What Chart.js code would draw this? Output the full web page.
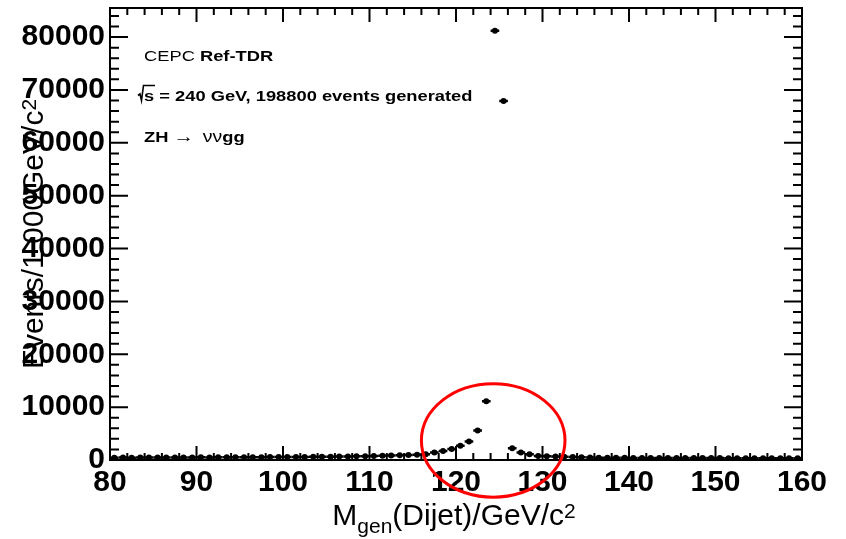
<!DOCTYPE html>
<html>
<head>
<meta charset="utf-8">
<script src="https://cdn.jsdelivr.net/npm/chart.js@4.4.1/dist/chart.umd.min.js"></script>
<style>
  html, body { margin: 0; padding: 0; background: #fff; }
  #wrap { width: 846px; height: 539px; }
</style>
</head>
<body>
<div id="wrap"><canvas id="mjj" width="846" height="539"></canvas></div>
<script>
// histogram binning, GeV/c^2
var histMin = 80;
var histMax = 160;
var binWidth = 1;

// events per 1 GeV bin, first bin 80-81
var counts = [
  430, 450, 440, 460, 450, 470, 460, 480, 470, 490,      // 80-90
  500, 490, 510, 520, 510, 530, 540, 530, 550, 560,      // 90-100
  560, 580, 590, 600, 620, 630, 650, 670, 690, 720,      // 100-110
  750, 790, 830, 880, 930, 990,                          // 110-116
  1100, 1400, 1700, 2100, 2700, 3500, 5600, 11100,       // 116-124
  81200, 67900,                                          // 124-126
  2200, 1400, 1100, 780,                                 // 126-130
  700, 650, 600, 560, 520, 470, 440, 430, 420, 410,      // 130-140
  400, 400, 390, 390, 380, 380, 370, 370, 360, 360,      // 140-150
  360, 350, 350, 340, 340, 330, 330, 320, 320, 310       // 150-160
];

var xTicks = [80, 90, 100, 110, 120, 130, 140, 150, 160];
var yTicks = [0, 10000, 20000, 30000, 40000, 50000, 60000, 70000, 80000];
var yMax = 85500;

var points = counts.map(function (n, i) {
  return { x: histMin + binWidth * (i + 0.5), y: n };
});

var FONT = "'Liberation Sans', Arial, Helvetica, sans-serif";

// horizontal bar over each bin + sqrt(N) vertical error
var errorBars = {
  id: 'errorBars',
  afterDatasetsDraw: function (chart) {
    var ctx = chart.ctx, xs = chart.scales.x, ys = chart.scales.y, a = chart.chartArea;
    ctx.save();
    ctx.beginPath();
    ctx.rect(a.left, a.top, a.right - a.left, a.bottom - a.top);
    ctx.clip();
    ctx.strokeStyle = '#000';
    ctx.lineWidth = 2.5;
    points.forEach(function (p) {
      var x1 = xs.getPixelForValue(p.x - binWidth / 2);
      var x2 = xs.getPixelForValue(p.x + binWidth / 2);
      var xc = xs.getPixelForValue(p.x);
      var y = ys.getPixelForValue(p.y);
      var err = Math.sqrt(p.y);
      ctx.beginPath();
      ctx.moveTo(x1, y);
      ctx.lineTo(x2, y);
      ctx.moveTo(xc, ys.getPixelForValue(p.y - err));
      ctx.lineTo(xc, ys.getPixelForValue(p.y + err));
      ctx.stroke();
    });
    ctx.restore();
  }
};

// ROOT-like frame: box with inward ticks on all four sides
var frame = {
  id: 'frame',
  afterDraw: function (chart) {
    var ctx = chart.ctx, xs = chart.scales.x, ys = chart.scales.y, a = chart.chartArea;
    ctx.save();
    ctx.strokeStyle = '#000';
    ctx.lineWidth = 2;
    ctx.strokeRect(a.left, a.top, a.right - a.left, a.bottom - a.top);
    ctx.beginPath();
    for (var v = histMin; v <= histMax; v += 2) {
      var len = (v % 10 === 0) ? 14 : 7;
      var px = xs.getPixelForValue(v);
      ctx.moveTo(px, a.bottom); ctx.lineTo(px, a.bottom - len);
      ctx.moveTo(px, a.top); ctx.lineTo(px, a.top + len);
    }
    for (var w = 0; w <= yMax; w += 2000) {
      var l = (w % 10000 === 0) ? 18 : 9;
      var py = ys.getPixelForValue(w);
      ctx.moveTo(a.left, py); ctx.lineTo(a.left + l, py);
      ctx.moveTo(a.right, py); ctx.lineTo(a.right - l, py);
    }
    ctx.stroke();
    ctx.restore();
  }
};

// draw a list of text runs, stretched horizontally
function drawRuns(ctx, runs, x, y, sx) {
  ctx.save();
  ctx.translate(x, y);
  ctx.scale(sx, 1);
  var cx = 0;
  runs.forEach(function (r) {
    ctx.font = r.font;
    ctx.fillText(r.text, cx, 0);
    cx += ctx.measureText(r.text).width + (r.gap || 0);
  });
  ctx.restore();
}

// axis titles with sub/superscripts, legend text and the highlight ring
var labels = {
  id: 'labels',
  afterDraw: function (chart) {
    var ctx = chart.ctx, xs = chart.scales.x, ys = chart.scales.y, a = chart.chartArea;
    ctx.save();
    ctx.fillStyle = '#000';
    ctx.textBaseline = 'alphabetic';
    ctx.textAlign = 'left';

    // x title: M_gen(Dijet)/GeV/c^2
    var big = '30px ' + FONT, small = '21px ' + FONT;
    ctx.font = big; var wM = ctx.measureText('M').width, wRest = ctx.measureText('(Dijet)/GeV/c').width;
    ctx.font = small; var wSub = ctx.measureText('gen').width, wSup = ctx.measureText('2').width;
    var x0 = (a.left + a.right) / 2 - (wM + wSub + wRest + wSup) / 2 - 2;
    var base = 525;
    ctx.font = big; ctx.fillText('M', x0, base);
    ctx.font = small; ctx.fillText('gen', x0 + wM, base + 8);
    ctx.font = big; ctx.fillText('(Dijet)/GeV/c', x0 + wM + wSub, base);
    ctx.font = small; ctx.fillText('2', x0 + wM + wSub + wRest, base - 7);

    // y title: Events/1.000GeV/c^2, rotated
    ctx.save();
    ctx.translate(43, (a.top + a.bottom) / 2);
    ctx.rotate(-Math.PI / 2);
    ctx.font = big; var wy = ctx.measureText('Events/1.000GeV/c').width;
    ctx.font = small; var wy2 = ctx.measureText('2').width;
    var y0 = -(wy + wy2) / 2;
    ctx.font = big; ctx.fillText('Events/1.000GeV/c', y0, 0);
    ctx.font = small; ctx.fillText('2', y0 + wy, -7);
    ctx.restore();

    // legend text
    var reg = '15px ' + FONT, bold = 'bold 15px ' + FONT, sx = 1.22;
    drawRuns(ctx, [{ text: 'CEPC ', font: reg }, { text: 'Ref-TDR', font: bold }], 144, 61, sx);
    drawRuns(ctx, [{ text: 's = 240 GeV, 198800 events generated', font: bold }], 144, 100.5, sx);
    // radical sign over "s"
    ctx.beginPath();
    ctx.lineWidth = 1.6;
    ctx.moveTo(138, 95.5); ctx.lineTo(140, 94); ctx.lineTo(141.5, 100.5);
    ctx.lineTo(143.5, 85.5); ctx.lineTo(155, 85.5);
    ctx.stroke();
    drawRuns(ctx, [
      { text: 'ZH ', font: bold },
      { text: '\u2192', font: '17px ' + FONT, gap: 7 },
      { text: '\u03bd\u03bd', font: '16px ' + FONT },
      { text: 'gg', font: bold }
    ], 144, 141.5, sx);

    // red ring around the peak region, placed in data units
    var ring = { x: 124.3, y: 3700, rx: 8.3, ry: 10730 };
    var cx = xs.getPixelForValue(ring.x), cy = ys.getPixelForValue(ring.y);
    var rx = xs.getPixelForValue(ring.x + ring.rx) - cx;
    var ry = cy - ys.getPixelForValue(ring.y + ring.ry);
    ctx.beginPath();
    ctx.strokeStyle = '#ff0000';
    ctx.lineWidth = 3;
    ctx.ellipse(cx, cy, rx, ry, 0, 0, Math.PI * 2);
    ctx.stroke();
    ctx.restore();
  }
};

var ctx = document.getElementById('mjj').getContext('2d');
var chart = new Chart(ctx, {
  type: 'scatter',
  data: {
    datasets: [{
      data: points,
      pointStyle: 'circle',
      pointRadius: 3,
      pointBorderWidth: 0,
      pointBackgroundColor: '#000',
      showLine: false
    }]
  },
  options: {
    responsive: false,
    animation: false,
    layout: { padding: { top: 8, right: 44, left: 0, bottom: 0 } },
    plugins: { legend: { display: false }, tooltip: { enabled: false } },
    scales: {
      x: {
        type: 'linear',
        min: histMin,
        max: histMax,
        ticks: {
          stepSize: 10, color: '#000', padding: 5, maxRotation: 0,
          font: { family: FONT, size: 30, weight: 'bold' },
          callback: function (v) { return String(v); }
        },
        grid: { display: false, drawTicks: false },
        border: { display: false },
        afterBuildTicks: function (s) { s.ticks = xTicks.map(function (v) { return { value: v }; }); },
        afterFit: function (s) { s.height = 79; s.paddingLeft = 0; s.paddingRight = 0; }
      },
      y: {
        min: 0,
        max: yMax,
        ticks: {
          stepSize: 10000, color: '#000', padding: 5,
          font: { family: FONT, size: 30, weight: 'bold' },
          callback: function (v) { return String(v); }
        },
        grid: { display: false, drawTicks: false },
        border: { display: false },
        afterBuildTicks: function (s) { s.ticks = yTicks.map(function (v) { return { value: v }; }); },
        afterFit: function (s) { s.width = 110; s.paddingTop = 0; s.paddingBottom = 0; }
      }
    }
  },
  plugins: [errorBars, frame, labels]
});
</script>
</body>
</html>
